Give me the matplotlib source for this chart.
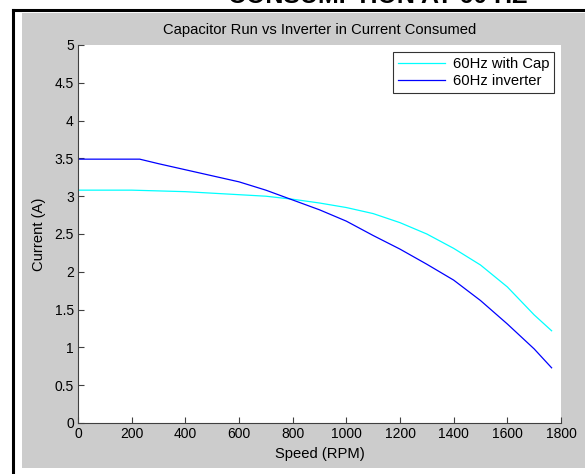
import matplotlib
matplotlib.use("Agg")
import matplotlib.pyplot as plt
from matplotlib.patches import Rectangle
from matplotlib.lines import Line2D

plt.rcParams['font.family'] = ['Liberation Sans', 'DejaVu Sans']

title = "Capacitor Run vs Inverter in Current Consumed"
xlabel = "Speed (RPM)"
ylabel = "Current (A)"
series_names = ["60Hz with Cap", "60Hz inverter"]

cap_speed = [0, 200, 300, 400, 500, 600, 700, 800, 900, 1000, 1100, 1200,
             1300, 1400, 1500, 1600, 1700, 1765]
cap_current = [3.08, 3.08, 3.07, 3.06, 3.04, 3.02, 3.00, 2.96, 2.91, 2.85,
               2.77, 2.65, 2.50, 2.31, 2.09, 1.80, 1.43, 1.22]

inv_speed = [0, 230, 300, 400, 500, 600, 700, 800, 900, 1000, 1100, 1200,
             1300, 1400, 1500, 1600, 1700, 1765]
inv_current = [3.49, 3.49, 3.43, 3.35, 3.27, 3.19, 3.08, 2.95, 2.82, 2.67,
               2.48, 2.30, 2.10, 1.89, 1.62, 1.31, 0.98, 0.73]

xticks = [0, 200, 400, 600, 800, 1000, 1200, 1400, 1600, 1800]
yticks = [0, 0.5, 1, 1.5, 2, 2.5, 3, 3.5, 4, 4.5, 5]
ytick_labels = ["0", "0.5", "1", "1.5", "2", "2.5", "3", "3.5", "4", "4.5", "5"]

W, H = 585, 474
fig = plt.figure(figsize=(W / 100, H / 100), dpi=100)
fig.patch.set_facecolor("white")

# gray MATLAB figure area
fig.add_artist(Rectangle((22 / W, 1 - 468 / H), (585 - 22) / W, (468 - 13) / H,
                         transform=fig.transFigure, facecolor="#cccccc",
                         edgecolor="none", zorder=-10))
# black border lines
fig.add_artist(Line2D([13 / W, 13 / W], [0, 1 - 10 / H], transform=fig.transFigure,
                      color="black", linewidth=2.2, zorder=-5))
fig.add_artist(Line2D([13 / W, 1], [1 - 10 / H, 1 - 10 / H], transform=fig.transFigure,
                      color="black", linewidth=2.2, zorder=-5))
# heading cut off at the top edge (as in the source image)
fig.text(228 / W, 1 - 3 / H, "CONSUMPTION AT 60 HZ", fontsize=18, fontweight="bold",
         ha="left", va="baseline", color="black")

ax = fig.add_axes([78 / W, 1 - 423 / H, (561 - 78) / W, (423 - 45) / H])
ax.set_facecolor("white")
ax.plot(cap_speed, cap_current, color="#00ffff", linewidth=0.9, label=series_names[0])
ax.plot(inv_speed, inv_current, color="#0000ff", linewidth=0.9, label=series_names[1])

ax.set_xlim(0, 1800)
ax.set_ylim(0, 5)
ax.set_xticks(xticks)
ax.set_yticks(yticks)
ax.set_yticklabels(ytick_labels)
for s in ["top", "right"]:
    ax.spines[s].set_visible(False)
for s in ["left", "bottom"]:
    ax.spines[s].set_color("#404040")
    ax.spines[s].set_linewidth(0.8)
ax.tick_params(direction="in", length=4, width=0.8, color="#404040",
               labelsize=10, pad=3)

ax.set_title(title, fontsize=10.6, pad=8)
ax.set_xlabel(xlabel, fontsize=10.6, labelpad=4)
ax.set_ylabel(ylabel, fontsize=10.6, labelpad=6)

leg = ax.legend(loc="upper right", fontsize=10.6, frameon=True, fancybox=False,
                edgecolor="black", handlelength=3.2, handletextpad=0.5,
                borderpad=0.35, labelspacing=0.2, borderaxespad=0.45)
leg.get_frame().set_linewidth(0.8)

fig.savefig("out.png", dpi=100)
